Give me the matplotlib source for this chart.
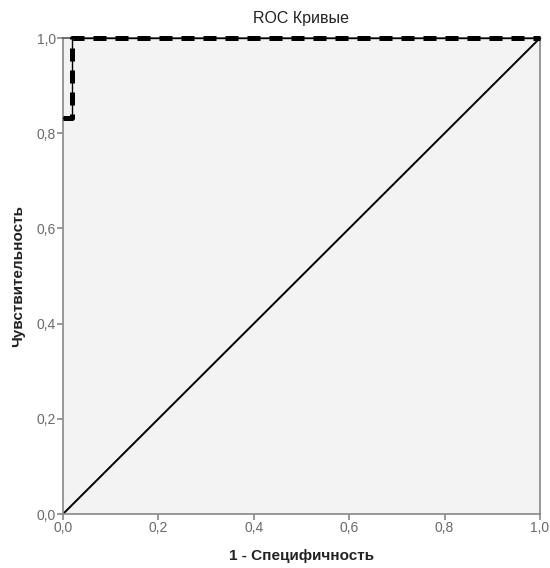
import matplotlib
matplotlib.use("Agg")
import matplotlib.pyplot as plt

plt.rcParams['font.family'] = ['Liberation Sans', 'DejaVu Sans']

# ROC curve points (1 - specificity, sensitivity); the part on x=0 hides under the axis
fpr = [0.0, 0.019, 0.019, 1.0]
tpr = [0.833, 0.833, 1.0, 1.0]
ref_x = [0.0, 1.0]
ref_y = [0.0, 1.0]
ticks = [0.0, 0.2, 0.4, 0.6, 0.8, 1.0]
tick_labels = ["0,0", "0,2", "0,4", "0,6", "0,8", "1,0"]

fig = plt.figure(figsize=(5.5, 5.68), dpi=100)
ax = fig.add_axes([0.1145, 0.095, 0.8673, 0.838])
ax.set_facecolor("#f3f3f3")

ax.plot(ref_x, ref_y, color="black", lw=1.4, zorder=2)
# thin solid line under the dashes
ax.plot(fpr, tpr, color="black", lw=1.0, zorder=3, clip_on=False)
ax.plot(fpr, tpr, color="black", lw=3.6, dashes=(2.6, 1.8), zorder=4,
        solid_capstyle="butt", clip_on=False)

ax.set_xlim(0, 1)
ax.set_ylim(0, 1)
ax.set_xticks(ticks)
ax.set_xticklabels(tick_labels)
ax.set_yticks(ticks)
ax.set_yticklabels(tick_labels)
for s in ["left", "bottom", "right", "top"]:
    ax.spines[s].set_color("#888888")
    ax.spines[s].set_linewidth(1.2)
ax.spines["top"].set_color("#555555")
ax.tick_params(direction="out", length=4, width=1.2, color="#888888",
               labelcolor="#6a6a6a", labelsize=10, pad=1)

ax.set_title("ROC Кривые", fontsize=11.5, color="#222222", pad=11)
ax.set_xlabel("1 - Специфичность", fontsize=11, fontweight="bold",
              color="#222222", labelpad=10)
ax.set_ylabel("Чувствительность", fontsize=11, fontweight="bold",
              color="#222222", labelpad=8)

fig.savefig("out.png", dpi=100)
